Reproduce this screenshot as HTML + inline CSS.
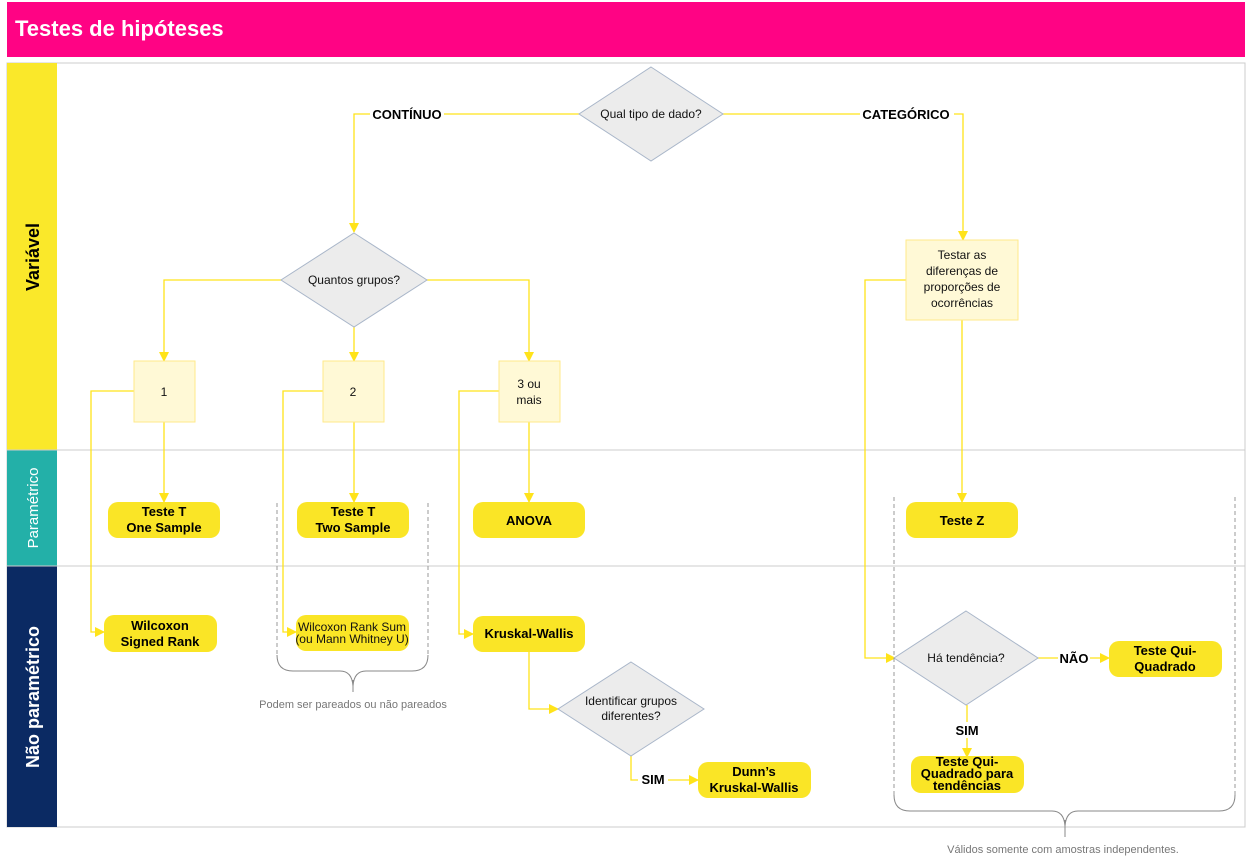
<!DOCTYPE html>
<html><head><meta charset="utf-8"><style>
html,body{margin:0;padding:0;background:#fff;}
svg{display:block;font-family:"Liberation Sans",sans-serif;}
.ln{stroke:#FFE31A;stroke-width:1.3;fill:none;}
.dm{fill:#ECECEC;stroke:#A9B6C9;stroke-width:1;}
.bx{fill:#FFF9D6;stroke:#FFE98A;stroke-width:1;}
.rr{fill:#FAE526;}
.t{font-size:12px;fill:#111;text-anchor:middle;}
.b{font-size:13px;font-weight:bold;fill:#000;text-anchor:middle;}
.dash{stroke:#999;stroke-width:1;stroke-dasharray:4,3;fill:none;}
.br{stroke:#888;stroke-width:1;fill:none;}
</style></head><body>
<svg width="1247" height="863" viewBox="0 0 1247 863">
<defs><marker id="a" markerWidth="10" markerHeight="10" refX="9" refY="5" orient="auto" markerUnits="userSpaceOnUse"><path d="M0,0 L10,5 L0,10 z" fill="#FFE31A"/></marker></defs>
<rect x="7" y="2" width="1238" height="55" fill="#FF0384"/>
<text x="15" y="36" font-size="22" font-weight="bold" fill="#fff">Testes de hipóteses</text>
<rect x="7" y="63" width="1238" height="764" fill="#fff" stroke="#ccc"/>
<rect x="7" y="63" width="50" height="387" fill="#FAE82A"/>
<rect x="7" y="450" width="50" height="116" fill="#23B0A8"/>
<rect x="7" y="566" width="50" height="261" fill="#0B2A63"/>
<line x1="7" y1="450" x2="1245" y2="450" stroke="#ccc"/>
<line x1="7" y1="566" x2="1245" y2="566" stroke="#ccc"/>
<text transform="translate(39,257) rotate(-90)" font-size="18" font-weight="bold" text-anchor="middle" fill="#000">Variável</text>
<text transform="translate(38,508) rotate(-90)" font-size="15" text-anchor="middle" fill="#fff">Paramétrico</text>
<text transform="translate(39,697) rotate(-90)" font-size="18" font-weight="bold" text-anchor="middle" fill="#fff">Não paramétrico</text>

<polyline class="ln" points="579,114 354,114 354,232" marker-end="url(#a)"/>
<polyline class="ln" points="723,114 963,114 963,240" marker-end="url(#a)"/>
<polyline class="ln" points="281,280 164,280 164,361" marker-end="url(#a)"/>
<polyline class="ln" points="427,280 529,280 529,361" marker-end="url(#a)"/>
<polyline class="ln" points="354,327 354,361" marker-end="url(#a)"/>
<polyline class="ln" points="164,422 164,502" marker-end="url(#a)"/>
<polyline class="ln" points="354,422 354,502" marker-end="url(#a)"/>
<polyline class="ln" points="529,422 529,502" marker-end="url(#a)"/>
<polyline class="ln" points="134,391 91,391 91,632 104,632" marker-end="url(#a)"/>
<polyline class="ln" points="323,391 283,391 283,632 296,632" marker-end="url(#a)"/>
<polyline class="ln" points="499,391 459,391 459,634 473,634" marker-end="url(#a)"/>
<polyline class="ln" points="962,320 962,502" marker-end="url(#a)"/>
<polyline class="ln" points="906,280 865,280 865,658 895,658" marker-end="url(#a)"/>
<polyline class="ln" points="529,652 529,709 558,709" marker-end="url(#a)"/>
<polyline class="ln" points="631,756 631,780 698,780" marker-end="url(#a)"/>
<polyline class="ln" points="1038,658 1109,658" marker-end="url(#a)"/>
<polyline class="ln" points="967,705 967,757" marker-end="url(#a)"/>

<rect x="370" y="106" width="74" height="16" fill="#fff"/><text class="b" x="407" y="119" font-size="12">CONTÍNUO</text>
<rect x="860" y="106" width="94" height="16" fill="#fff"/><text class="b" x="906" y="119" font-size="12">CATEGÓRICO</text>
<rect x="1058" y="650" width="32" height="16" fill="#fff"/><text class="b" x="1074" y="663" font-size="12">NÃO</text>
<rect x="952" y="722" width="30" height="16" fill="#fff"/><text class="b" x="967" y="735" font-size="12">SIM</text>
<rect x="638" y="772" width="30" height="16" fill="#fff"/><text class="b" x="653" y="784" font-size="12">SIM</text>

<polygon class="dm" points="651,67 723,114 651,161 579,114"/>
<text class="t" x="651" y="118">Qual tipo de dado?</text>
<polygon class="dm" points="354,233 427,280 354,327 281,280"/>
<text class="t" x="354" y="284">Quantos grupos?</text>
<polygon class="dm" points="966,611 1038,658 966,705 894,658"/>
<text class="t" x="966" y="662">Há tendência?</text>
<polygon class="dm" points="631,662 704,709 631,756 558,709"/>
<text class="t" x="631" y="705">Identificar grupos</text>
<text class="t" x="631" y="720">diferentes?</text>

<rect class="bx" x="134" y="361" width="61" height="61"/><text class="t" x="164" y="396">1</text>
<rect class="bx" x="323" y="361" width="61" height="61"/><text class="t" x="353" y="396">2</text>
<rect class="bx" x="499" y="361" width="61" height="61"/><text class="t" x="529" y="388">3 ou</text><text class="t" x="529" y="404">mais</text>
<rect class="bx" x="906" y="240" width="112" height="80"/>
<text class="t" x="962" y="259">Testar as</text><text class="t" x="962" y="275">diferenças de</text><text class="t" x="962" y="291">proporções de</text><text class="t" x="962" y="307">ocorrências</text>

<rect class="rr" x="108" y="502" width="112" height="36" rx="10"/><text class="b" x="164" y="516">Teste T</text><text class="b" x="164" y="532">One Sample</text>
<rect class="rr" x="297" y="502" width="112" height="36" rx="10"/><text class="b" x="353" y="516">Teste T</text><text class="b" x="353" y="532">Two Sample</text>
<rect class="rr" x="473" y="502" width="112" height="36" rx="10"/><text class="b" x="529" y="525">ANOVA</text>
<rect class="rr" x="906" y="502" width="112" height="36" rx="10"/><text class="b" x="962" y="525">Teste Z</text>
<rect class="rr" x="104" y="615" width="113" height="37" rx="10"/><text class="b" x="160" y="630">Wilcoxon</text><text class="b" x="160" y="646">Signed Rank</text>
<rect class="rr" x="296" y="615" width="113" height="36" rx="10"/><text class="t" x="352" y="631" font-size="8.5">Wilcoxon Rank Sum</text><text class="t" x="352" y="643" font-size="8.5">(ou Mann Whitney U)</text>
<rect class="rr" x="473" y="616" width="112" height="36" rx="10"/><text class="b" x="529" y="638">Kruskal-Wallis</text>
<rect class="rr" x="698" y="762" width="113" height="36" rx="10"/><text class="b" x="754" y="776">Dunn’s</text><text class="b" x="754" y="792">Kruskal-Wallis</text>
<rect class="rr" x="1109" y="641" width="113" height="36" rx="10"/><text class="b" x="1165" y="655">Teste Qui-</text><text class="b" x="1165" y="671">Quadrado</text>
<rect class="rr" x="911" y="756" width="113" height="37" rx="10"/>
<text class="b" x="967" y="766" font-size="10">Teste Qui-</text><text class="b" x="967" y="778" font-size="10">Quadrado para</text><text class="b" x="967" y="790" font-size="10">tendências</text>

<line class="dash" x1="277" y1="503" x2="277" y2="655"/>
<line class="dash" x1="428" y1="503" x2="428" y2="655"/>
<path class="br" d="M277,655 Q277,671 293,671 L340,671 Q352,671 353,686 Q354,671 366,671 L412,671 Q428,671 428,655"/>
<line class="br" x1="353" y1="680" x2="353" y2="692"/>
<text x="353" y="708" font-size="11" fill="#777" text-anchor="middle">Podem ser pareados ou não pareados</text>
<line class="dash" x1="894" y1="497" x2="894" y2="795"/>
<line class="dash" x1="1235" y1="497" x2="1235" y2="795"/>
<path class="br" d="M894,795 Q894,811 910,811 L1052,811 Q1064,811 1065,826 Q1066,811 1078,811 L1219,811 Q1235,811 1235,795"/>
<line class="br" x1="1065" y1="820" x2="1065" y2="837"/>
<text x="1063" y="853" font-size="11" fill="#777" text-anchor="middle">Válidos somente com amostras independentes.</text>
</svg>
</body></html>
